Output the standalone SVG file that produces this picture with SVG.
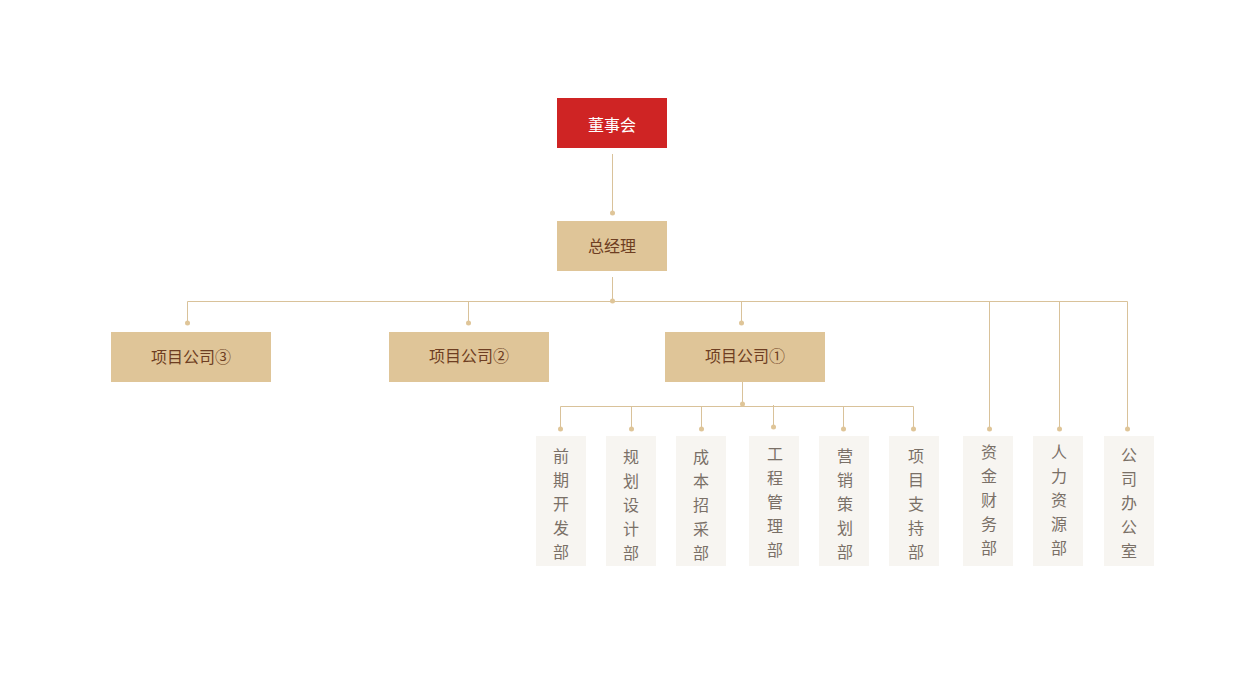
<svg xmlns="http://www.w3.org/2000/svg" width="1242" height="700" viewBox="0 0 1242 700">
<style>
.ln{stroke:#D9C29A;stroke-width:1;fill:none}
.dot{fill:#DFC598}
.top{fill:#CF2424}
.mid{fill:#DFC598}
.dep{fill:#F7F5F1}
.t{font-family:"Noto Sans CJK SC","Noto Sans",sans-serif;font-size:16px;text-anchor:middle}
.tw{fill:#FFFFFF}
.tb{fill:#6E3E22}
.tg{fill:#7A7067}
</style>
<rect width="1242" height="700" fill="#FFFFFF"/>
<g id="connectors">
<path class="ln" d="M612.5 154V213"/>
<path class="ln" d="M612.5 277V301"/>
<path class="ln" d="M187.5 323V301.5H1127.5V429"/>
<path class="ln" d="M468.5 301.5V323"/>
<path class="ln" d="M741.5 301.5V323"/>
<path class="ln" d="M989.5 301.5V429"/>
<path class="ln" d="M1059.5 301.5V429"/>
<path class="ln" d="M742.5 382V404"/>
<path class="ln" d="M560.5 429V406.5H913.5V429"/>
<path class="ln" d="M631.5 406.5V429"/>
<path class="ln" d="M701.5 406.5V429"/>
<path class="ln" d="M773.5 405V427"/>
<path class="ln" d="M843.5 406.5V429"/>
<circle class="dot" cx="612.5" cy="213" r="2.5"/>
<circle class="dot" cx="612.5" cy="301" r="2.5"/>
<circle class="dot" cx="187.5" cy="323" r="2.5"/>
<circle class="dot" cx="468.5" cy="323" r="2.5"/>
<circle class="dot" cx="741.5" cy="323" r="2.5"/>
<circle class="dot" cx="742.5" cy="404" r="2.5"/>
<circle class="dot" cx="560.5" cy="429" r="2.5"/>
<circle class="dot" cx="631.5" cy="429" r="2.5"/>
<circle class="dot" cx="701.5" cy="429" r="2.5"/>
<circle class="dot" cx="773.5" cy="427" r="2.5"/>
<circle class="dot" cx="843.5" cy="429" r="2.5"/>
<circle class="dot" cx="913.5" cy="429" r="2.5"/>
<circle class="dot" cx="989.5" cy="429" r="2.5"/>
<circle class="dot" cx="1059.5" cy="429" r="2.5"/>
<circle class="dot" cx="1127.5" cy="429" r="2.5"/>
</g>
<g id="board"><rect class="top" x="557" y="98" width="110" height="50"/><text class="t tw" x="612" y="131">董事会</text></g>
<g id="gm"><rect class="mid" x="557" y="221" width="110" height="50"/><text class="t tb" x="612" y="252">总经理</text></g>
<g id="p3"><rect class="mid" x="111" y="332" width="160" height="50"/><text class="t tb" x="191" y="363">项目公司③</text></g>
<g id="p2"><rect class="mid" x="389" y="332" width="160" height="50"/><text class="t tb" x="469" y="362">项目公司②</text></g>
<g id="p1"><rect class="mid" x="665" y="332" width="160" height="50"/><text class="t tb" x="745" y="362">项目公司①</text></g>
<g id="d1"><rect class="dep" x="536" y="436" width="50" height="130"/><text class="t tg" x="561"><tspan x="561" y="462">前</tspan><tspan x="561" y="486">期</tspan><tspan x="561" y="510">开</tspan><tspan x="561" y="534">发</tspan><tspan x="561" y="558">部</tspan></text></g>
<g id="d2"><rect class="dep" x="606" y="436" width="50" height="130"/><text class="t tg" x="631"><tspan x="631" y="463">规</tspan><tspan x="631" y="487">划</tspan><tspan x="631" y="511">设</tspan><tspan x="631" y="535">计</tspan><tspan x="631" y="559">部</tspan></text></g>
<g id="d3"><rect class="dep" x="676" y="436" width="50" height="130"/><text class="t tg" x="701"><tspan x="701" y="463">成</tspan><tspan x="701" y="487">本</tspan><tspan x="701" y="511">招</tspan><tspan x="701" y="535">采</tspan><tspan x="701" y="559">部</tspan></text></g>
<g id="d4"><rect class="dep" x="749" y="436" width="50" height="130"/><text class="t tg" x="775"><tspan x="775" y="460">工</tspan><tspan x="775" y="484">程</tspan><tspan x="775" y="508">管</tspan><tspan x="775" y="532">理</tspan><tspan x="775" y="556">部</tspan></text></g>
<g id="d5"><rect class="dep" x="819" y="436" width="50" height="130"/><text class="t tg" x="845"><tspan x="845" y="462">营</tspan><tspan x="845" y="486">销</tspan><tspan x="845" y="510">策</tspan><tspan x="845" y="534">划</tspan><tspan x="845" y="558">部</tspan></text></g>
<g id="d6"><rect class="dep" x="889" y="436" width="50" height="130"/><text class="t tg" x="916"><tspan x="916" y="462">项</tspan><tspan x="916" y="486">目</tspan><tspan x="916" y="510">支</tspan><tspan x="916" y="534">持</tspan><tspan x="916" y="558">部</tspan></text></g>
<g id="d7"><rect class="dep" x="963" y="436" width="50" height="130"/><text class="t tg" x="989"><tspan x="989" y="458">资</tspan><tspan x="989" y="482">金</tspan><tspan x="989" y="506">财</tspan><tspan x="989" y="530">务</tspan><tspan x="989" y="554">部</tspan></text></g>
<g id="d8"><rect class="dep" x="1033" y="436" width="50" height="130"/><text class="t tg" x="1059"><tspan x="1059" y="458">人</tspan><tspan x="1059" y="482">力</tspan><tspan x="1059" y="506">资</tspan><tspan x="1059" y="530">源</tspan><tspan x="1059" y="554">部</tspan></text></g>
<g id="d9"><rect class="dep" x="1104" y="436" width="50" height="130"/><text class="t tg" x="1129"><tspan x="1129" y="461">公</tspan><tspan x="1129" y="485">司</tspan><tspan x="1129" y="509">办</tspan><tspan x="1129" y="533">公</tspan><tspan x="1129" y="557">室</tspan></text></g>
</svg>
